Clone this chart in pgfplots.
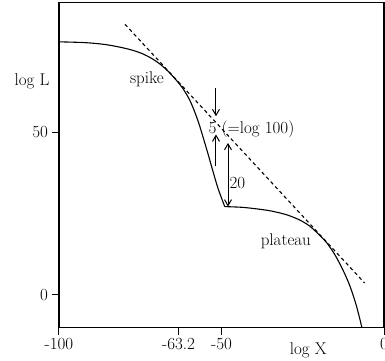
\documentclass[border=0pt]{standalone}
\usepackage{pgfplots}
\pgfplotsset{compat=1.18}
\usetikzlibrary{arrows.meta,calc}

\begin{document}
\begin{tikzpicture}[font=\fontsize{17}{20}\selectfont]
\begin{axis}[name=ax, scale only axis, width=325pt, height=325pt,
  xmin=-100, xmax=0, ymin=-10, ymax=90,
  xtick={-100,-63.2,-50,0}, xticklabels={-100,-63.2,-50,0},
  ytick={0,50}, yticklabels={0,50},
  tick pos=left, tick align=outside, major tick length=7.5pt,
  axis line style={line width=1.1pt},
  every tick/.style={black, line width=1pt},
  clip mode=individual,
]
% spike branch
\addplot[black, line width=1.1pt, smooth] coordinates {
(-100,77.9) (-92,77.65) (-86,77.1) (-81,76.2) (-77,75.2) (-74,74.1) (-71.5,72.8)
(-69,71.1) (-66.5,68.9) (-64,66.2) (-62,63.7) (-60,60.4) (-58.5,57.0) (-57,52.9)
(-55.5,48.0) (-54,42.9) (-52.5,37.6) (-51,32.6) (-49,27.2)
};
% plateau branch
\addplot[black, line width=1.1pt, smooth] coordinates {
(-49.0,27.2) (-44,27.0) (-40,26.6) (-35,25.9) (-30,24.7) (-26,23.1) (-23,21.3)
(-20,18.6) (-17.5,15.9) (-15,12.2) (-12.5,7.4) (-10.5,2.8) (-8.5,-3.3) (-6.8,-10)
};
% tangent line
\addplot[black, line width=1.1pt, dash pattern=on 3.5pt off 3pt] coordinates {
(-79.7,83.3) (-5.96,3.69)
};
% arrows
\addplot[black, line width=1pt, -{Straight Barb[length=6pt,width=7pt]}] coordinates {(-51.7,63.8) (-51.7,55.0)};
\addplot[black, line width=1pt, -{Straight Barb[length=6pt,width=7pt]}] coordinates {(-51.7,39.6) (-51.7,49.4)};
\addplot[black, line width=1pt, {Straight Barb[length=6pt,width=7pt]}-{Straight Barb[length=6pt,width=7pt]}] coordinates {(-48.0,27.2) (-48.0,46.8)};

\node[anchor=west, inner sep=0pt] at (axis cs:-54.0,50.9) {5 (=log 100)};
\node[anchor=west, inner sep=0pt] at (axis cs:-47.6,34.5) {20};
\node at (axis cs:-72.96,66.3) {spike};
\node at (axis cs:-30.2,16.55) {plateau};
\node at (axis cs:-108.3,65.8) {log L};
\node[anchor=base] at (axis cs:-23.3,-10) [yshift=-27.3pt] {log X};
\end{axis}
\pgfresetboundingbox
\path[use as bounding box] ($(ax.south west)+(-59pt,-33.3pt)$) rectangle ($(ax.north east)+(1pt,2.5pt)$);
\end{tikzpicture}
\end{document}
